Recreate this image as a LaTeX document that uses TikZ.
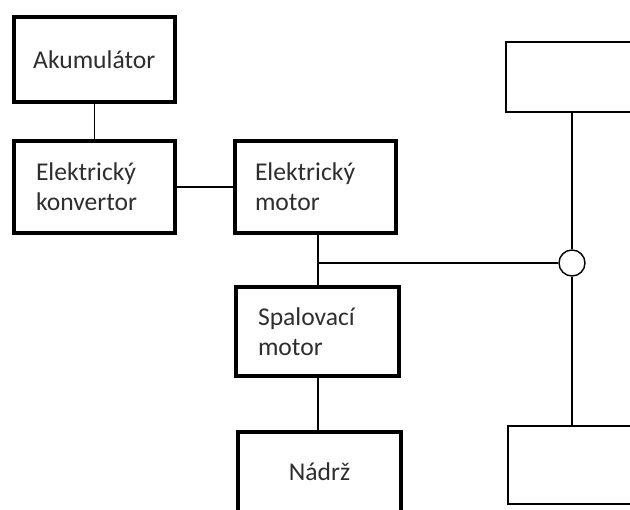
\documentclass[tikz,border=0pt]{standalone}
\usepackage{fontspec}
\setmainfont{Carlito}
\begin{document}
\begin{tikzpicture}[x=1pt,y=-1pt,
  thickbox/.style={draw=black, line width=4pt, rectangle, inner sep=0pt},
  thinbox/.style={draw=black, line width=1.6pt, rectangle, inner sep=0pt},
  lbl/.style={font=\fontsize{25.6}{30}\selectfont, text=black!82},
  conn/.style={draw=black, line width=1.4pt},
  junction/.style={draw=black, line width=1.4pt, circle, minimum size=26pt, inner sep=0pt}]
\useasboundingbox (0,0) rectangle (630,510);
\clip (0,0) rectangle (630,510);
\fill[white] (0,0) rectangle (630,510);

\node[thickbox, lbl, minimum width=161.5pt, minimum height=85.5pt] (akku) at (94.25,59.75) {Akumulátor};
\node[thickbox, lbl, minimum width=161.5pt, minimum height=92pt, text width=116.5pt, align=left] (konv) at (94.25,187) {Elektrický\\konvertor};
\node[thickbox, lbl, minimum width=161pt, minimum height=92pt, text width=121pt, align=left] (emot) at (315.5,187) {Elektrický\\motor};
\node[thickbox, lbl, minimum width=163pt, minimum height=89pt, text width=119pt, align=left] (spal) at (317.5,331.5) {Spalovací\\motor};
\node[thickbox, lbl, minimum width=163pt, minimum height=80pt] (nadrz) at (319.5,472) {Nádrž};

\node[thinbox, minimum width=144pt, minimum height=70pt] (topbox) at (578,77) {};
\node[thinbox, minimum width=142pt, minimum height=78pt] (botbox) at (579,465) {};
\node[junction] (circ) at (572,263) {};
\coordinate (j) at (318,263);

\draw[conn] (akku.south) -- (konv.north);
\draw[conn] (konv.east) -- (konv.east -| emot.west);
\draw[conn] (emot.south -| j) -- (spal.north -| j);
\draw[conn] (j) -- (circ.west);
\draw[conn] (spal.south -| j) -- (nadrz.north -| j);
\draw[conn] (topbox.south -| circ) -- (circ.north);
\draw[conn] (circ.south) -- (botbox.north -| circ);
\end{tikzpicture}
\end{document}
